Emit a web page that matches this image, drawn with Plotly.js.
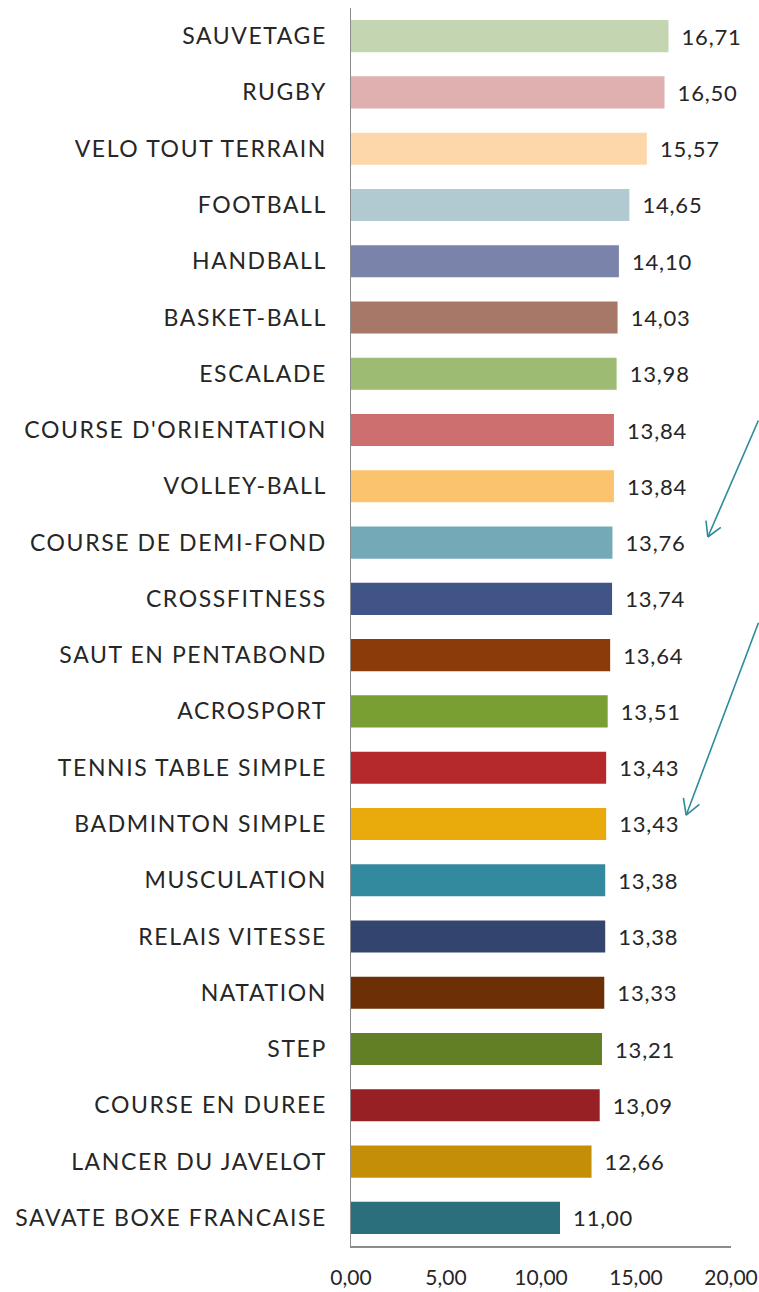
<!DOCTYPE html>
<html>
<head>
<meta charset="utf-8">
<script src="https://cdn.plot.ly/plotly-3.0.1.min.js"></script>
<style>
html,body{margin:0;padding:0;background:#fff;}
#chart{width:759px;height:1292px;}
#chart .ytick text{letter-spacing:1.6px;}
#chart .bartext{letter-spacing:0.8px;}
</style>
</head>
<body>
<div id="chart"></div>
<script>
const sports = [
  "SAUVETAGE","RUGBY","VELO TOUT TERRAIN","FOOTBALL","HANDBALL","BASKET-BALL",
  "ESCALADE","COURSE D'ORIENTATION","VOLLEY-BALL","COURSE DE DEMI-FOND","CROSSFITNESS",
  "SAUT EN PENTABOND","ACROSPORT","TENNIS TABLE SIMPLE","BADMINTON SIMPLE","MUSCULATION",
  "RELAIS VITESSE","NATATION","STEP","COURSE EN DUREE","LANCER DU JAVELOT","SAVATE BOXE FRANCAISE"
];
const notes = [16.71,16.50,15.57,14.65,14.10,14.03,13.98,13.84,13.84,13.76,13.74,
  13.64,13.51,13.43,13.43,13.38,13.38,13.33,13.21,13.09,12.66,11.00];
const colors = ["#c4d5b2","#e0b0b0","#fdd6aa","#b1c9d1","#7a83a9","#a77868",
  "#9dbb72","#cc6f6e","#fbc36d","#74a9b8","#415487","#8b3b0a","#799e31",
  "#b5292c","#e9aa0c","#33899e","#33456e","#6d2f05","#627f26","#962024","#c58e07","#2b6f7c"];
const xTicks = [0,5,10,15,20];

const font = "Lato, 'Open Sans', sans-serif";
const arrowColor = "#2e8b9b";
const trace = {
  type: "bar",
  orientation: "h",
  y: sports,
  x: notes,
  width: 0.57,
  marker: {color: colors, line: {width: 0}},
  texttemplate: "\u00a0\u00a0%{x:.2f}",
  textposition: "outside",
  cliponaxis: false,
  textfont: {family: font, size: 22, color: "#262626"},
  hoverinfo: "skip"
};

function line(x, y, ax, ay) {
  return {xref: "paper", yref: "paper", x: x, y: y, ax: ax, ay: ay,
    axref: "pixel", ayref: "pixel", showarrow: true, arrowhead: 0,
    arrowwidth: 1.6, arrowcolor: arrowColor, text: "", standoff: 0, startstandoff: 0};
}
// decorative arrows (head point in paper coords, shaft + two V arms in pixel offsets)
const annotations = [
  line(0.939, 0.5727, 53, -118), line(0.939, 0.5727, 14.5, -10.7), line(0.939, 0.5727, -2, -17.9),
  line(0.882, 0.348, 75, -194), line(0.882, 0.348, 14.7, -12.0), line(0.882, 0.348, -3.0, -18.8)
];

const layout = {
  width: 759, height: 1292,
  margin: {l: 351, r: 28, t: 8, b: 46},
  separators: ", ",
  paper_bgcolor: "#fff", plot_bgcolor: "#fff",
  showlegend: false,
  font: {family: font, size: 22, color: "#262626"},
  xaxis: {
    range: [0, 20], tickvals: xTicks, tickformat: ".2f",
    showgrid: false, zeroline: false, showline: true, linecolor: "#8c8c8c", linewidth: 1.5,
    ticks: "", ticklabelstandoff: 12,
    tickfont: {size: 21, family: font, color: "#262626"}, fixedrange: true
  },
  yaxis: {
    autorange: "reversed", showgrid: false, zeroline: false,
    showline: true, linecolor: "#8c8c8c", linewidth: 1.5, ticks: "",
    ticklabelstandoff: 18,
    tickfont: {size: 23, family: font, color: "#262626"}, fixedrange: true
  },
  annotations: annotations
};
Plotly.newPlot("chart", [trace], layout, {displayModeBar: false, staticPlot: true});
</script>
</body>
</html>
